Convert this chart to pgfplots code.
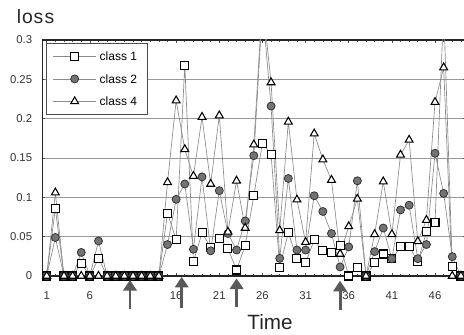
\documentclass[border=0pt]{standalone}
\usepackage{fontspec}
\setmainfont{Liberation Sans}
\usepackage{pgfplots}
\pgfplotsset{compat=1.18}
\usepackage{pgfplotstable}
\usetikzlibrary{arrows.meta}
\pgfplotstableread{
x c1 c2 c4
1 0 0 0
2 0.086 0.049 0.106
3 0 0 0
4 0 0 0
5 0.016 0.030 0
6 0 0 0
7 0.0225 0.0445 0
8 0 0 0
9 0 0 0
10 0 0 0
11 0 0 0
12 0 0 0
13 0 0 0
14 0 0 0
15 0.080 0.040 0.119
16 0.046 0.0975 0.223
17 0.268 0.117 0.161
18 0.018 0.034 0.127
19 0.055 0.126 0.202
20 0.036 0.032 0.117
21 0.048 0.1085 0.204
22 0.035 0.054 0.056
23 0.0076 0.033 0.121
24 0.039 0.070 0.061
25 0.102 0.153 0.167
26 0.169 0.34 0.35
27 0.155 0.216 0.246
28 0.011 0.0225 0.058
29 0.055 0.124 0.196
30 0.022 0.033 0.097
31 0.017 0.033 0.043
32 0.046 0.102 0.181
33 0.032 0.082 0.148
34 0.030 0.054 0.122
35 0.039 0.0115 0.028
36 0 0.037 0.063
37 0.011 0.121 0.098
38 0 0 0
39 0.017 0.031 0.053
40 0.028 0.061 0.120
41 0.022 0.022 0.053
42 0.037 0.084 0.154
43 0.038 0.090 0.173
44 0.018 0.022 0.044
45 0.056 0.040 0.071
46 0.068 0.156 0.221
47 0.34 0.105 0.265
48 0.012 0.0246 0
49 0 0 0
}\losstable
\begin{document}
\begin{tikzpicture}
\begin{axis}[
  name=ax, at={(0,0)}, anchor=south west,
  scale only axis, width=317.7pt, height=177pt,
  xmin=0.5, xmax=49.59, ymin=0, ymax=0.3,
  axis line style={line width=1.1pt, black!85},
  xtick={1,6,16,21,26,31,36,41,46},
  xticklabels={1,6,16,21,26,31,36,41,46},
  minor xtick={1,...,49},
  ytick={0,0.05,0.1,0.15,0.2,0.25,0.3},
  yticklabels={0,0.05,0.1,0.15,0.2,0.25,0.3},
  major tick length=2pt, minor tick length=1.5pt,
  tick style={black!70, line width=0.5pt},
  ymajorgrids, grid style={black!40, line width=0.5pt},
  ticklabel style={font=\fontsize{8.5}{10}\selectfont, text=black!80},
  yticklabel style={xshift=-4.2pt},
  xticklabel style={yshift=-8.5pt},
  legend cell align=left,
  legend style={at={(0.0085,0.986)}, anchor=north west,
    draw=black!70, line width=0.5pt, fill=white,
    inner xsep=5pt, inner ysep=3.8pt, row sep=5.4pt,
    font=\fontsize{9}{10}\selectfont,
    nodes={inner sep=2.5pt, text height=6.5pt, text depth=0pt}},
  legend image code/.code={\draw[mark repeat=2,mark phase=2,#1] plot coordinates {(0pt,0pt) (16pt,0pt) (32pt,0pt)};},
  every axis plot/.append style={line width=0.5pt, black!45},
]
\addplot[mark=square*, mark options={draw=black, fill=white, line width=0.8pt, mark size=3pt, solid}] table[x=x,y=c1] {\losstable};
\addlegendentry{class 1}
\addplot[mark=*, mark options={draw=black!80, fill=black!55, line width=0.6pt, mark size=3pt, solid}] table[x=x,y=c2] {\losstable};
\addlegendentry{class 2}
\addplot[mark=triangle*, mark options={draw=black, fill=white, line width=0.8pt, mark size=3.4pt, solid}] table[x=x,y=c4] {\losstable};
\addlegendentry{class 4}
\coordinate (a1t) at (axis cs:10.65,-0.005);
\coordinate (a1b) at (axis cs:10.65,-0.042);
\coordinate (a2t) at (axis cs:16.64,-0.001);
\coordinate (a2b) at (axis cs:16.64,-0.041);
\coordinate (a3t) at (axis cs:23.0,-0.003);
\coordinate (a3b) at (axis cs:23.0,-0.040);
\coordinate (a4t) at (axis cs:35.0,-0.006);
\coordinate (a4b) at (axis cs:35.0,-0.043);
\end{axis}
\foreach \i in {1,2,3,4}{
  \draw[black!65, line width=2.2pt, -{Triangle[width=10pt,length=8pt]}] (a\i b) -- (a\i t);
}
\node[anchor=base west, inner sep=0pt, font=\fontsize{14.5}{16}\selectfont, text=black!85] at ([shift={(-19.3pt,12pt)}]ax.north west) {l\kern0.6pt o\kern0.6pt s\kern1pt s};
\node[anchor=base, font=\fontsize{15.5}{17}\selectfont, text=black!85] at ([shift={(170.7pt,-40.5pt)}]ax.south west) {Time};
\pgfresetboundingbox
\path ([shift={(-31.8pt,-44.25pt)}]ax.south west) rectangle ([shift={(316.2pt,207pt)}]ax.south west);
\end{tikzpicture}
\end{document}
